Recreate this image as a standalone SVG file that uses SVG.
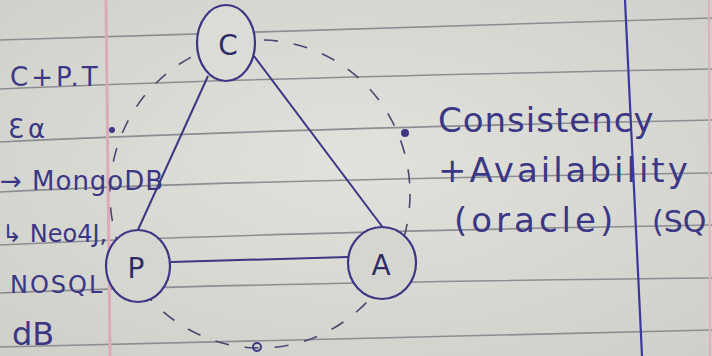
<svg xmlns="http://www.w3.org/2000/svg" width="712" height="356" viewBox="0 0 712 356">
<defs>
<radialGradient id="paper" cx="0.5" cy="0.45" r="0.75">
<stop offset="0" stop-color="#e2e2dc"/>
<stop offset="1" stop-color="#cfcfc9"/>
</radialGradient>
<style>
.rule{fill:none;stroke:#8c8d92;stroke-width:1.6}
.ink{font-family:"DejaVu Sans","Liberation Sans",sans-serif;fill:#3b3785}
.node{stroke:#3b3785;stroke-width:2.2}
.edge{fill:none;stroke:#3b3785;stroke-width:2}
.dash{fill:none;stroke:#4a4870;stroke-width:1.6;stroke-dasharray:14 16}
.lbl{font-family:"DejaVu Sans","Liberation Sans",sans-serif;font-size:28px;fill:#2e2c66;text-anchor:middle}
</style>
</defs>
<rect width="712" height="356" fill="url(#paper)"/>
<g id="paper-lines">
<path class="rule" d="M0,40 Q240,31 712,18"/>
<path class="rule" d="M0,89 Q240,78 712,69"/>
<path class="rule" d="M0,142 Q240,130 712,120"/>
<path class="rule" d="M0,192 Q240,180 712,173"/>
<path class="rule" d="M0,245 Q240,233 712,225"/>
<path class="rule" d="M0,293 Q240,283 712,278"/>
<path class="rule" d="M0,347 Q240,340 712,330"/>
<line x1="106" y1="0" x2="110" y2="356" stroke="#dcaab9" stroke-width="3"/>
<line x1="709" y1="0" x2="710" y2="356" stroke="#dcb0bc" stroke-width="2"/>
</g>
<g id="connectors">
<ellipse class="dash" cx="260" cy="194" rx="150" ry="154"/>
<line class="edge" x1="208" y1="76" x2="137" y2="232"/>
<line class="edge" x1="254" y1="56" x2="384" y2="229"/>
<line class="edge" x1="171" y1="262" x2="348" y2="257"/>
<circle cx="112" cy="130" r="3" fill="#3b3785"/>
<circle cx="405" cy="133" r="4" fill="#3b3785"/>
<circle cx="257" cy="347" r="4" fill="none" stroke="#3b3785" stroke-width="2"/>
</g>
<g id="node-C">
<ellipse cx="226" cy="43" rx="29" ry="38" class="node" fill="#dcdcd6"/>
<text class="lbl" x="228" y="55">C</text>
</g>
<g id="node-P">
<ellipse cx="138" cy="266" rx="32" ry="36" class="node" fill="#d6d6d0"/>
<text class="lbl" x="136" y="278">P</text>
</g>
<g id="node-A">
<ellipse cx="382" cy="263" rx="34" ry="36" class="node" fill="#d6d6d0"/>
<text class="lbl" x="381" y="275">A</text>
</g>
<g id="left-notes" class="ink" font-size="26">
<text x="10" y="86" letter-spacing="3">C+P.T</text>
<text x="8" y="138" letter-spacing="4">Ɛα</text>
<text x="0" y="190" letter-spacing="1">→ MongoDB</text>
<text x="2" y="242" font-size="24">↳ Neo4J,</text>
<text x="10" y="293" font-size="24" letter-spacing="2">NOSQL</text>
<text x="12" y="345" font-size="32">dB</text>
</g>
<g id="right-notes" class="ink" font-size="34">
<text x="438" y="132" letter-spacing="1">Consistency</text>
<text x="438" y="182" letter-spacing="3">+Availability</text>
<text x="454" y="232" letter-spacing="4">(oracle)</text>
<text x="652" y="232" font-size="30">(SQ</text>
</g>
<line x1="625" y1="0" x2="642" y2="356" stroke="#3a37a0" stroke-width="2.2"/>
</svg>
